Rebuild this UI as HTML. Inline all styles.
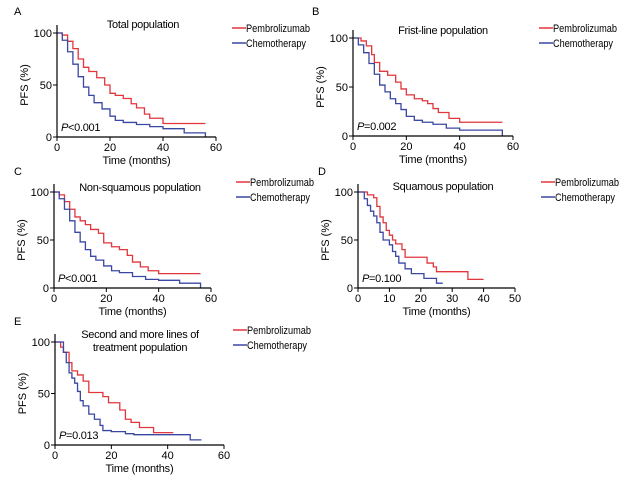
<!DOCTYPE html>
<html><head><meta charset="utf-8"><style>
body{margin:0;background:#fff;}
svg{display:block;font-family:"Liberation Sans",sans-serif;}
</style></head><body>
<svg id="fig" width="634" height="482" viewBox="0 0 634 482"></svg>
<script>
// Panel data: [time, PFS%] step points
const timeA_red=[0,2,4,6,8,10,12,15,18,20,22,25,28,30,33,35,40,56];
const pfsA_red=[100,98,92,85,75,67,63,57,50,42,40,37,32,28,22,18,13,13];
const timeA_blue=[0,2,4,6,8,10,12,14,17,20,22,25,30,35,40,48,56,56];
const pfsA_blue=[100,93,82,70,58,48,40,33,27,20,16,14,12,10,8,4,4,0];
const timeB_red=[0,3,5,7,8,10,13,16,18,20,23,26,28,30,32,36,40,56];
const pfsB_red=[100,97,92,83,75,66,62,55,48,42,38,36,33,28,24,18,14,14];
const timeB_blue=[0,2,4,6,8,10,12,14,16,18,20,23,26,30,35,40,56,56];
const pfsB_blue=[100,93,85,74,63,52,45,38,33,27,20,16,14,12,8,6,6,0];
const timeC_red=[0,2,4,6,8,10,12,14,17,19,22,25,28,30,33,36,40,56];
const pfsC_red=[100,97,90,82,74,70,66,61,57,47,43,40,34,27,22,18,15,15];
const timeC_blue=[0,2,4,6,8,10,12,14,16,19,22,25,30,35,40,48,56,56];
const pfsC_blue=[100,93,82,70,58,48,40,33,29,23,18,16,12,9,8,5,5,0];
const timeD_red=[0,3,5,6,7,8,9,10,11,12,14,15,22,24,25,35,40];
const pfsD_red=[100,97,94,85,74,68,60,55,50,46,40,32,26,22,17,9,9];
const timeD_blue=[0,2,3,4,5,6,7,8,10,11,12,13,15,17,21,25,27];
const pfsD_blue=[100,93,86,80,75,68,58,50,45,38,33,26,20,15,10,5,5];
const timeE_red=[0,2,3,5,6,8,10,12,17,19,23,25,27,30,35,42];
const pfsE_red=[100,95,90,80,72,68,62,51,47,41,34,25,22,17,12,12];
const timeE_blue=[0,3,4,5,6,7,8,9,10,12,14,16,17,20,25,28,47,48,52];
const pfsE_blue=[100,90,80,70,65,60,52,43,38,30,25,19,14,13,11,10,10,5,5];
const xTicksA=[0,20,40,60], xTicksD=[0,10,20,30,40,50], yTicks=[0,50,100];

const panels=[
 {id:'a',letter:'A',lx:14,ly:15,x0:57,x1:216,y100:33,y0:137,xmax:60,xt:xTicksA,title:['Total population'],tx:143,ty:28,lgx:232,lgy:28,p:'<0.001',tr:timeA_red,pr:pfsA_red,tb:timeA_blue,pb:pfsA_blue},
 {id:'b',letter:'B',lx:312,ly:15,x0:353,x1:513,y100:38,y0:136,xmax:60,xt:xTicksA,title:['Frist-line population'],tx:443,ty:34,lgx:539,lgy:28,p:'=0.002',tr:timeB_red,pr:pfsB_red,tb:timeB_blue,pb:pfsB_blue},
 {id:'c',letter:'C',lx:14,ly:175,x0:54,x1:211,y100:192,y0:288,xmax:60,xt:xTicksA,title:['Non-squamous population'],tx:140,ty:191,lgx:236,lgy:182,p:'<0.001',tr:timeC_red,pr:pfsC_red,tb:timeC_blue,pb:pfsC_blue},
 {id:'d',letter:'D',lx:318,ly:175,x0:358,x1:515,y100:192,y0:288,xmax:50,xt:xTicksD,title:['Squamous population'],tx:443,ty:190,lgx:541,lgy:182,p:'=0.100',tr:timeD_red,pr:pfsD_red,tb:timeD_blue,pb:pfsD_blue},
 {id:'e',letter:'E',lx:14,ly:325,x0:55,x1:224,y100:342,y0:445,xmax:60,xt:xTicksA,title:['Second and more lines of','treatment population'],tx:140,ty:338,lgx:233,lgy:330,p:'=0.013',tr:timeE_red,pr:pfsE_red,tb:timeE_blue,pb:pfsE_blue}
];
const NS='http://www.w3.org/2000/svg';
const svg=document.getElementById('fig');
function mk(tag,attrs,parent,text){const e=document.createElementNS(NS,tag);for(const k in attrs)e.setAttribute(k,attrs[k]);if(text!==undefined)e.textContent=text;parent.appendChild(e);return e;}
const RED='#e0363c',BLUE='#3a47a3';
panels.forEach(P=>{
 const g=mk('g',{},svg);
 
 
 const sx=t=>P.x0+(P.x1-P.x0)*t/P.xmax;
 const sy=v=>P.y0-(P.y0-P.y100)*v/100;
 const L=mk('text',{x:P.lx,y:P.ly,'font-size':11},g,P.letter);
 
 P.title.forEach((t,i)=>{const T=mk('text',{x:P.tx,y:P.ty+i*13,'font-size':11,'letter-spacing':'-0.3','text-anchor':'middle'},g,t);
  });
 [[P.tr,P.pr,RED,'pembrolizumab-curve'],[P.tb,P.pb,BLUE,'chemotherapy-curve']].forEach(([ts,vs,c,n])=>{
  let d='M'+sx(ts[0])+','+sy(vs[0]);
  for(let i=1;i<ts.length;i++){d+=' H'+sx(ts[i])+' V'+sy(vs[i]);}
  const pth=mk('path',{d:d,fill:'none',stroke:c,'stroke-width':1.3},g);
  
 });
 const ax=mk('path',{d:`M${P.x0},${P.y100-8} V${P.y0} H${P.x1}`,fill:'none',stroke:'#000','stroke-width':1.2},g);
 
 P.xt.forEach(t=>{mk('line',{x1:sx(t),x2:sx(t),y1:P.y0,y2:P.y0+4,stroke:'#000'},g);
  const tl=mk('text',{x:sx(t),y:P.y0+14,'font-size':11,'text-anchor':'middle'},g,t);
  });
 yTicks.forEach(v=>{mk('line',{x1:P.x0-4,x2:P.x0,y1:sy(v),y2:sy(v),stroke:'#000'},g);
  const tl=mk('text',{x:P.x0-5,y:sy(v)+4,'font-size':11,'text-anchor':'end'},g,v);
  });
 const xt=mk('text',{x:(P.x0+P.x1)/2,y:P.y0+27,'font-size':11,'letter-spacing':'-0.2','text-anchor':'middle'},g,'Time (months)');
 
 const yc=(P.y0+P.y100)/2, yx=P.x0-29;
 const yt=mk('text',{x:yx,y:yc,'font-size':11,'text-anchor':'middle',transform:`rotate(-90 ${yx} ${yc})`},g,'PFS (%)');
 
 const pt=mk('text',{x:P.x0+4,y:P.y0-6,'font-size':11,'letter-spacing':'-0.3'},g);
 
 mk('tspan',{'font-style':'italic'},pt,'P');mk('tspan',{},pt,P.p);
 [['Pembrolizumab',RED,0,64],['Chemotherapy',BLUE,15,60]].forEach(([n,c,dy,w])=>{
  const lg=mk('g',{},g);
  
  mk('line',{x1:P.lgx,x2:P.lgx+14,y1:P.lgy+dy,y2:P.lgy+dy,stroke:c,'stroke-width':1.5},lg);
  mk('text',{x:P.lgx+14,y:P.lgy+dy+4,'font-size':11,textLength:w,lengthAdjust:'spacingAndGlyphs'},lg,n);
 });
});
</script>
</body></html>
